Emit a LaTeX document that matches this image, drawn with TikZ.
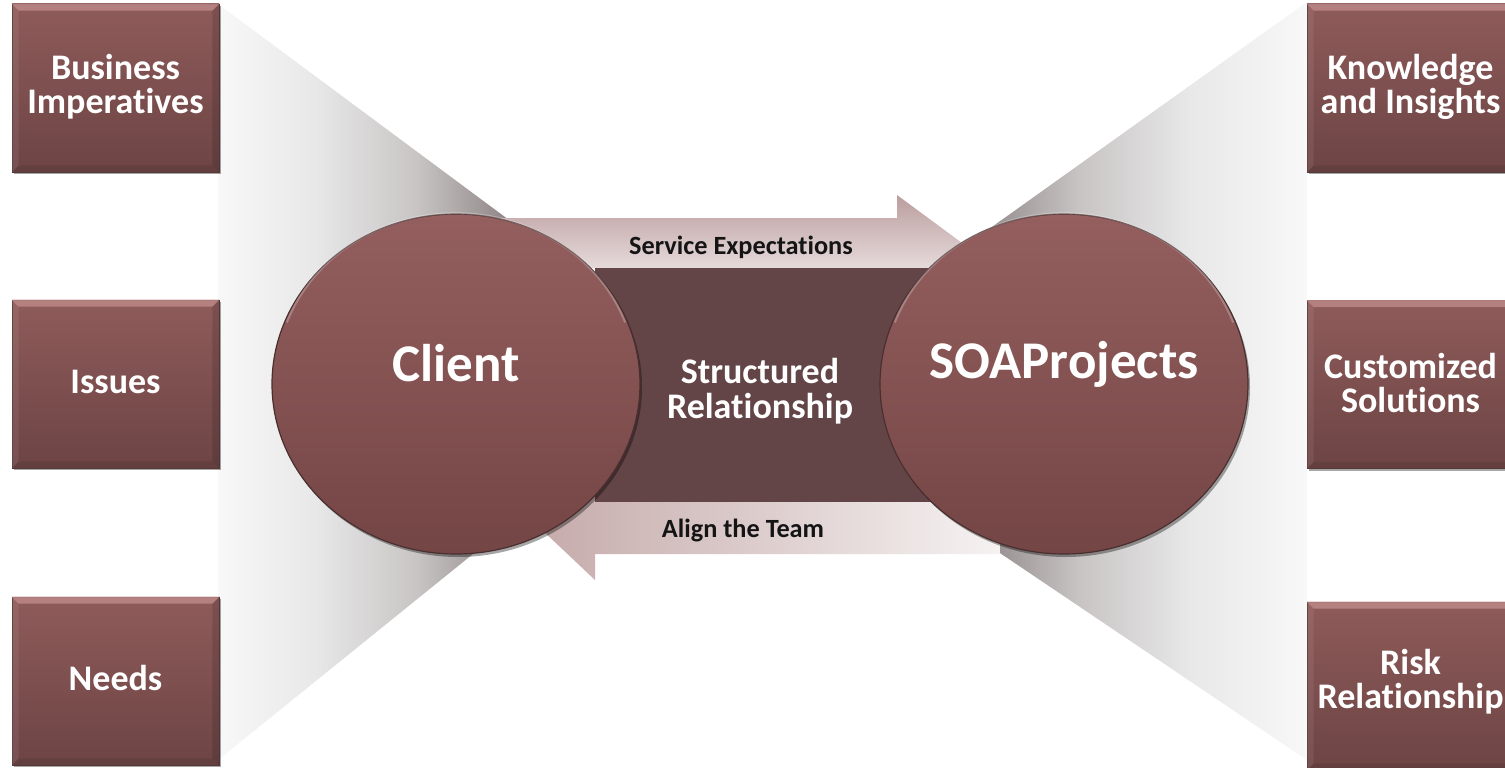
\documentclass[tikz,border=0pt]{standalone}
\usepackage{fontspec}
\setmainfont{Carlito}[Ligatures=NoCommon, RawFeature={-liga,-clig,-dlig}]
\usetikzlibrary{shapes.geometric,shadows}
\definecolor{boxtop}{HTML}{8E5B5A}
\definecolor{boxbot}{HTML}{6D4444}
\definecolor{boxline}{HTML}{553838}
\definecolor{circtop}{HTML}{945F5E}
\definecolor{circbot}{HTML}{744545}
\definecolor{circline}{HTML}{4A2F30}
\definecolor{relfill}{HTML}{634547}
\definecolor{fangray}{HTML}{7E7274}
\definecolor{fanlight}{HTML}{F8F8F8}
\definecolor{fanA}{HTML}{E8E8E8}
\definecolor{fanB}{HTML}{C8C4C4}
\definecolor{fanC}{HTML}{938A8B}
\definecolor{arrtop}{HTML}{BB9D9E}
\definecolor{arrbot}{HTML}{F4EEEE}
\definecolor{arrleft}{HTML}{C6ABAB}
\definecolor{arrright}{HTML}{F6F2F2}
\definecolor{bevlight}{HTML}{BC8887}
\definecolor{bevdark}{HTML}{5A3939}
\definecolor{labtext}{HTML}{141414}
\pgfdeclarehorizontalshading{fanleft}{100bp}{color(0bp)=(fanlight); color(25bp)=(fanlight); color(40bp)=(fanA); color(56bp)=(fanB); color(69bp)=(fanC); color(75bp)=(fangray); color(100bp)=(fangray)}
\pgfdeclarehorizontalshading{fanright}{100bp}{color(0bp)=(fangray); color(25bp)=(fangray); color(31bp)=(fanC); color(44bp)=(fanB); color(59bp)=(fanA); color(75bp)=(fanlight); color(100bp)=(fanlight)}
\newcommand\BevBox[4]{%
  \node[bbox] (#1) at (#2) {};
  \fill[bevlight,opacity=.85] (#1.north west) -- (#1.north east) -- ([shift={(-7,7)}]#1.north east) -- ([shift={(7,7)}]#1.north west) -- cycle;
  \fill[bevdark,opacity=.45] (#1.south west) -- (#1.south east) -- ([shift={(-7,-7)}]#1.south east) -- ([shift={(7,-7)}]#1.south west) -- cycle;
  \fill[white,opacity=.07] (#1.north west) -- ([shift={(7,7)}]#1.north west) -- ([shift={(7,-7)}]#1.south west) -- (#1.south west) -- cycle;
  \fill[black,opacity=.12] (#1.north east) -- ([shift={(-7,7)}]#1.north east) -- ([shift={(-7,-7)}]#1.south east) -- (#1.south east) -- cycle;
  \node[boxtext] (#1t) at (#3) {#4};
}
\begin{document}
\begin{tikzpicture}[x=1pt,y=-1pt,
  bbox/.style={rectangle, draw=boxline, line width=0.6pt, top color=boxtop, bottom color=boxbot,
    minimum width=207pt, minimum height=168pt, inner sep=0pt,
    drop shadow={shadow xshift=1.5pt, shadow yshift=-2pt, opacity=.35, fill=black}},
  boxtext/.style={text=white, font=\fontsize{36}{34}\selectfont\bfseries, align=center, inner sep=0pt},
  circtext/.style={text=white, font=\fontsize{53}{53}\selectfont\bfseries, inner sep=0pt},
  reltext/.style={text=white, font=\fontsize{36}{35}\selectfont\bfseries, align=center, inner sep=0pt},
  arrtext/.style={text=labtext, font=\fontsize{26.3}{27}\selectfont\bfseries, inner sep=0pt},
  circ/.style={ellipse, minimum width=368pt, minimum height=340pt, inner sep=0pt,
    top color=circtop, bottom color=circbot, draw=circline, line width=1.2pt,
    drop shadow={shadow xshift=2pt, shadow yshift=-3pt, opacity=.35, fill=black}}
]
\useasboundingbox (0,0) rectangle (1505,768);
\fill[white] (0,0) rectangle (1505,768);

% fans
\shade[shading=fanleft] (218,4) -- (540,243) -- (520,516) -- (218,760) -- cycle;
\shade[shading=fanright] (940,264) -- (1307,2) -- (1307,760) -- (945,516) -- cycle;

% arrows
\shade[top color=arrtop, bottom color=arrbot] (480,218) -- (897,218) -- (897,195) -- (962,243) -- (897,292) -- (897,268) -- (480,268) -- cycle;
\shade[left color=arrleft, right color=arrright] (1000,502) -- (595,502) -- (595,476) -- (540,528) -- (595,580) -- (595,554) -- (1000,554) -- cycle;

% central relationship block
\node[fill=relfill, minimum width=345pt, minimum height=234pt, inner sep=0pt] (rel) at (767.5,385) {};
\node[reltext] (relt) at (760,391) {Structured\\Relationship};

% labels on arrows
\node[arrtext] (se) at (741,247) {Service Expectations};
\node[arrtext] (at) at (743,530) {Align the Team};

% circles
\node[circ] (client) at (456,384) {};
\draw[white, opacity=.25, line width=2pt] (client.center) ++(160:180pt) arc[start angle=160, end angle=20, x radius=180pt, y radius=166pt];
\node[circtext] (clientt) at (456,363) {Client};
\node[circ] (soa) at (1064,384) {};
\draw[white, opacity=.25, line width=2pt] (soa.center) ++(160:180pt) arc[start angle=160, end angle=20, x radius=180pt, y radius=166pt];
\node[circtext] (soat) at (1064,364) {SOAProjects};

% boxes
\BevBox{bi}{115.5,88}{115.5,87}{Business\\Imperatives}
\BevBox{is}{115.5,384}{115.5,382}{Issues}
\BevBox{ne}{115.5,681}{115.5,678}{Needs}
\BevBox{ki}{1410.5,88}{1410.5,87}{Knowledge\\and Insights}
\BevBox{cs}{1410.5,384.5}{1410.5,383}{Customized\\Solutions}
\BevBox{rr}{1410.5,686}{1410.5,682}{Risk\\Relationship}
\end{tikzpicture}
\end{document}
